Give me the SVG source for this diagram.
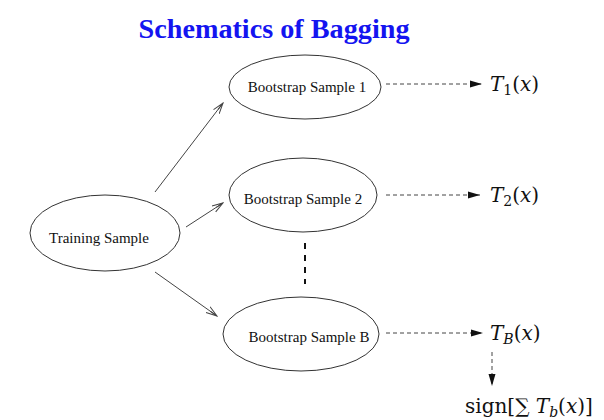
<svg xmlns="http://www.w3.org/2000/svg" width="604" height="420" viewBox="0 0 604 420">
<style>
.node ellipse{fill:none;stroke:#333;stroke-width:1}
.lbl{font-family:"Liberation Serif",serif;font-size:15px;fill:#111;text-anchor:middle}
.math{font-family:"DejaVu Serif","Liberation Serif",serif;font-size:20px;fill:#111}
.solid{stroke:#444;stroke-width:1;fill:none}
.dash{stroke:#444;stroke-width:1;fill:none;stroke-dasharray:4 3}
</style>
<defs>
<marker id="open" markerWidth="12" markerHeight="10" refX="11" refY="5" orient="auto" markerUnits="userSpaceOnUse">
<path d="M0,1.5 L11,5 L0,8.5 M3,5 L11,5" fill="none" stroke="#444" stroke-width="1"/>
</marker>
<marker id="fill" markerWidth="12" markerHeight="8" refX="12" refY="4" orient="auto" markerUnits="userSpaceOnUse">
<path d="M0,0.5 L12,4 L0,7.5 Z" fill="#111"/>
</marker>
</defs>
<rect width="604" height="420" fill="#fff"/>
<text x="274" y="38" font-family="Liberation Serif,serif" font-weight="bold" font-size="28" fill="#1414f0" text-anchor="middle" textLength="271" lengthAdjust="spacingAndGlyphs">Schematics of Bagging</text>
<g id="training" class="node"><ellipse cx="105" cy="233" rx="75" ry="38"/><text class="lbl" x="99" y="243">Training Sample</text></g>
<g id="boot1" class="node"><ellipse cx="305" cy="87" rx="76" ry="32"/><text class="lbl" x="307" y="92">Bootstrap Sample 1</text></g>
<g id="boot2" class="node"><ellipse cx="303" cy="195" rx="74" ry="37"/><text class="lbl" x="303" y="204">Bootstrap Sample 2</text></g>
<g id="bootB" class="node"><ellipse cx="301" cy="334" rx="78" ry="37"/><text class="lbl" x="309" y="342">Bootstrap Sample B</text></g>
<g id="t1"><text class="math" x="490" y="91"><tspan font-style="italic">T</tspan><tspan font-size="14" dy="4">1</tspan><tspan dy="-4">(</tspan><tspan font-style="italic">x</tspan>)</text></g>
<g id="t2"><text class="math" x="490" y="202"><tspan font-style="italic">T</tspan><tspan font-size="14" dy="4">2</tspan><tspan dy="-4">(</tspan><tspan font-style="italic">x</tspan>)</text></g>
<g id="tB"><text class="math" x="490" y="340"><tspan font-style="italic">T</tspan><tspan font-size="14" font-style="italic" dy="4">B</tspan><tspan dy="-4">(</tspan><tspan font-style="italic">x</tspan>)</text></g>
<g id="sign"><text class="math" x="465" y="413">sign[∑ <tspan font-style="italic">T</tspan><tspan font-size="14" font-style="italic" dy="4">b</tspan><tspan dy="-4">(</tspan><tspan font-style="italic">x</tspan>)]</text></g>
<g id="connectors">
<line class="solid" x1="155" y1="192" x2="223" y2="103" marker-end="url(#open)"/>
<line class="solid" x1="186" y1="227" x2="223" y2="203" marker-end="url(#open)"/>
<line class="solid" x1="155" y1="272" x2="217" y2="316" marker-end="url(#open)"/>
<line class="dash" x1="386" y1="84" x2="482" y2="84" marker-end="url(#fill)"/>
<line class="dash" x1="386" y1="195" x2="480" y2="195" marker-end="url(#fill)"/>
<line class="dash" x1="386" y1="333" x2="483" y2="333" marker-end="url(#fill)"/>
<line class="dash" x1="492" y1="352" x2="492" y2="386" marker-end="url(#fill)"/>
<line x1="305" y1="243" x2="305" y2="284" stroke="#111" stroke-width="2" stroke-dasharray="6 6"/>
</g>
</svg>
